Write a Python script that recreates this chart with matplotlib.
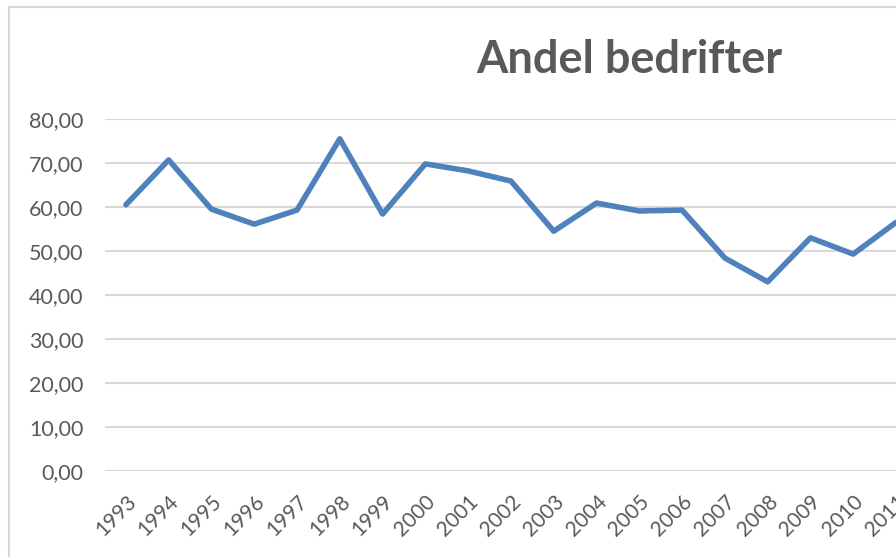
import matplotlib
matplotlib.use('Agg')
import matplotlib.pyplot as plt
from matplotlib.patches import Rectangle

W, H = 896, 557
GREY_T = '#595959'
GRID = '#d9d9d9'
BLUE = '#4f81bd'

years = ['1993', '1994', '1995', '1996', '1997', '1998', '1999', '2000', '2001', '2002',
         '2003', '2004', '2005', '2006', '2007', '2008', '2009', '2010', '2011']
andel = [60.5, 70.7, 59.5, 56.1, 59.3, 75.5, 58.4, 69.8, 68.2, 65.9,
         54.5, 60.9, 59.1, 59.3, 48.4, 43.0, 53.0, 49.3, 56.5]
yticks = [0, 10, 20, 30, 40, 50, 60, 70, 80]

plt.rcParams['font.family'] = ['Lato', 'DejaVu Sans']

fig = plt.figure(figsize=(W / 100, H / 100), dpi=100, facecolor='white')

# chart border, cropped on the right and bottom like the reference
fig.patches.append(Rectangle((9 / W, -0.1), 1.2, 1 - 7 / H + 0.1, transform=fig.transFigure,
                             fill=False, edgecolor=GRID, lw=1.5))

# plot area: category spacing ~43.1 px, first category at x=126
left = 104.5
ax = fig.add_axes([left / W, 1 - 471 / H, (W - left) / W, (471 - 119) / H])
x = list(range(len(years)))
ax.plot(x, andel, color=BLUE, lw=4, solid_joinstyle='round', solid_capstyle='round')
ax.set_xlim(-0.5, (W - 126) / 43.1)
ax.set_ylim(0, 80)
ax.set_yticks(yticks)
ax.set_yticklabels([f'{v:.2f}'.replace('.', ',') for v in yticks], color=GREY_T, fontsize=15.5)
ax.set_xticks(x)
ax.set_xticklabels(years, rotation=45, ha='right', va='top', rotation_mode='anchor',
                   color=GREY_T, fontsize=15)
ax.tick_params(axis='y', length=0, pad=15)
ax.tick_params(axis='x', length=0, pad=15)
ax.grid(axis='y', color=GRID, lw=1.5)
ax.set_axisbelow(True)
for s in ax.spines.values():
    s.set_visible(False)

fig.text(629 / W, 1 - 60 / H, 'Andel bedrifter', ha='center', va='center',
         fontsize=32.5, fontweight='bold', color=GREY_T)

fig.savefig('out.png', dpi=100, facecolor='white')
